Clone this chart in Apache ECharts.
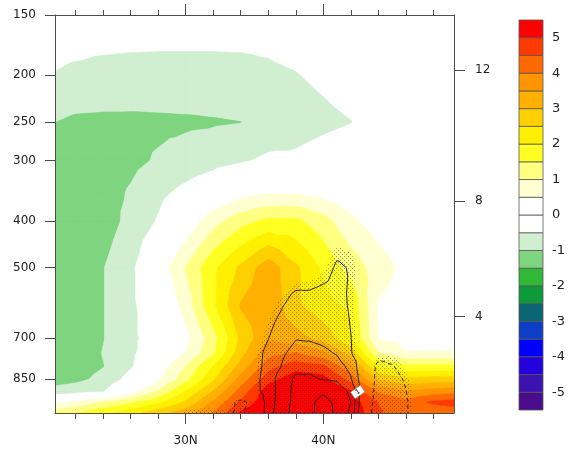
<!DOCTYPE html>
<html><head><meta charset="utf-8">
<script src="https://cdn.jsdelivr.net/npm/echarts@6/dist/echarts.min.js"></script>
<style>html,body{margin:0;padding:0;background:#fff}#chart{width:575px;height:449px}</style>
</head><body><div id="chart"></div>
<script>
// ---------- shaded field (latitude x pressure) ----------
const latitudes = [20,22,24,26,28,30,32,34,36,38,40,42,44,46,48,50];
const pressureLevels = [1000,950,900,850,800,750,700,600,500,400,350,300,250,200,150];
const shade1000 = [1.2,1.5,1.9,2.3,2.8,3.3,4.02,5.1,5.6,6.0,6.0,5.4,4.6,3.98,4.1,4.2];
const shade950  = [0.2,0.6,1.02,1.4,1.9,2.6,3.6,4.6,5.4,5.8,5.8,5.3,4.48,4.2,4.6,4.8];
const shade900  = [-0.85,-0.7,-0.52,0.2,1.02,2.02,3.02,4.2,5.3,5.6,5.5,5.02,3.9,3.5,3.7,3.8];
const shade850  = [-1.3,-1.15,-0.85,-0.3,0.4,1.3,2.4,3.7,4.8,5.3,5.2,4.3,2.9,2.6,2.7,2.7];
const shade800  = [-1.35,-1.25,-1.02,-0.55,0.2,1.02,2.02,3.2,4.3,4.8,4.6,3.6,2.02,1.6,1.6,1.6];
const shade750  = [-1.35,-1.3,-0.98,-0.6,-0.1,0.52,1.4,2.8,3.8,4.0,3.6,2.8,1.02,0.52,0.52,0.52];
const shade700  = [-1.4,-1.35,-1.02,-0.6,-0.25,0.35,1.3,2.6,3.45,3.2,2.8,2.05,0.48,0.35,0.35,0.35];
const shade600  = [-1.4,-1.35,-1.02,-0.6,-0.1,0.7,1.9,3.05,3.4,2.6,2.2,1.9,0.45,0.25,0.15,0.1];
const shade500  = [-1.4,-1.35,-1.02,-0.6,0.15,1.02,1.9,2.6,3.3,2.6,1.9,1.3,0.75,0.35,0.15,0.05];
const shade400  = [-1.4,-1.4,-1.25,-0.85,-0.45,0.1,0.8,1.3,1.6,1.6,1.2,0.6,0.25,0.05,0,0];
const shade350  = [-1.35,-1.35,-1.2,-0.95,-0.62,-0.35,-0.05,0.3,0.45,0.45,0.3,0.15,0.05,0,0,0];
const shade300  = [-1.3,-1.3,-1.25,-1.12,-0.95,-0.8,-0.68,-0.55,-0.4,-0.4,-0.25,-0.12,-0.05,0,0,0];
const shade250  = [-0.97,-1.1,-1.12,-1.12,-1.1,-1.08,-1.05,-1.01,-0.85,-0.72,-0.62,-0.51,-0.3,-0.15,-0.05,0];
const shade200  = [-0.5,-0.56,-0.6,-0.62,-0.63,-0.63,-0.63,-0.62,-0.58,-0.52,-0.4,-0.25,-0.12,-0.05,0,0];
const shade150  = [-0.3,-0.3,-0.3,-0.3,-0.3,-0.3,-0.3,-0.3,-0.3,-0.2,-0.1,0,0,0,0,0];
const shadeRows = [shade1000,shade950,shade900,shade850,shade800,shade750,shade700,shade600,shade500,shade400,shade350,shade300,shade250,shade200,shade150];

// ---------- contour-line field ----------
const lineLatitudes = [28,29,30,31,32,33,34,35,36,37,38,39,40,41,42,43,44,45,46,47,48];
const linePressures = [1000,950,900,850,800,750,700,600,500,400];
const line1000 = [0,-0.4,-0.9,-0.95,-0.95,-0.88,-1.15,-0.6,1.7,2.5,3.5,3.75,4.5,3.8,2.8,-0.5,-1.5,-1.6,-1.1,-0.4,0];
const line950  = [0,-0.2,-0.5,-0.6,-0.6,-0.55,-1.3,-0.6,1.6,2.4,3.4,3.8,4.3,3.8,3.0,-0.3,-1.5,-1.6,-1.1,-0.4,0];
const line900  = [0,0,0,0.05,0.05,0.1,0.2,0.65,1.5,2.45,3.3,3.6,3.85,3.5,2.8,0.0,-1.5,-1.5,-1.02,-0.4,0];
const line850  = [0,0,0,0,0,0.1,0.3,0.7,1.45,2.55,3.15,3.1,2.95,2.85,2.1,0.1,-1.4,-1.3,-0.9,-0.4,0];
const line800  = [0,0,0,0,0,0.1,0.3,0.65,1.3,2.05,2.7,2.85,2.7,2.4,1.7,0.0,-1.3,-1.05,-0.7,-0.3,0];
const line750  = [0,0,0,0,0,0.1,0.3,0.7,1.2,1.85,2.3,2.4,2.2,1.9,1.05,0.3,-0.5,-0.7,-0.5,-0.2,0];
const line700  = [0,0,0,0,0,0.1,0.2,0.5,0.98,1.5,1.95,1.9,1.75,1.5,1.02,0.4,0.0,-0.2,-0.2,0,0];
const line600  = [0,0,0,0,0,0.1,0.2,0.4,0.6,0.95,1.4,1.35,1.4,1.3,0.9,0.4,0.2,0,0,0,0];
const line500  = [0,0,0,0,0,0,0,0.1,0.2,0.3,0.4,0.5,0.7,1.1,0.95,0.5,0.2,0,0,0,0];
const line400  = [0,0,0,0,0,0,0,0,0,0,0.1,0.2,0.3,0.4,0.5,0.3,0,0,0,0,0];
const lineRows = [line1000,line950,line900,line850,line800,line750,line700,line600,line500,line400];
const solidLevels = [1,2,3,4];
const dashedLevels = [-1];
const stippleThreshold = 0.8;
const labelLat = [42.5], labelP = [905], labelText = ['1'];

// ---------- colour scale ----------
const colorLevels = [-5,-4.5,-4,-3.5,-3,-2.5,-2,-1.5,-1,-0.5,0,0.5,1,1.5,2,2.5,3,3.5,4,4.5,5];
const bandColors = ['#4b0c8c','#3c12b0','#2400dc','#0000ff','#0d3fc6','#0b6674','#0d9a3a','#30b936','#7fd480','#d0eed0',
  '#ffffff','#ffffff','#ffffd2','#ffff82','#ffff22','#fff000','#ffd000','#ffb000','#ff9500','#ff6a00','#ff3a00','#ff0000'];
const colorbarLabels = [-5,-4,-3,-2,-1,0,1,2,3,4,5];
const colorbarEnds = [-5.5, 5.5];

// ---------- axes ----------
const pressureTicks = [150,200,250,300,400,500,700,850];
const heightTicksKm = [4,8,12];
const heightTickPressure = [631,364,195];
const majorLatTicks = [30,40];
const minorLatTicks = [22,24,26,28,32,34,36,38,42,44,46,48];

// ---------- contouring helpers ----------
function buildTriangles(lats, ps, rows){
  const tris = [];
  const V = (r,c) => ({x:lats[c], y:Math.log(ps[r]), v:rows[r][c], id:'g'+r+'_'+c});
  for (let r=0;r<ps.length-1;r++) for (let c=0;c<lats.length-1;c++){
    const a=V(r,c), b=V(r,c+1), d=V(r+1,c+1), e=V(r+1,c);
    const m={x:(a.x+b.x+d.x+e.x)/4, y:(a.y+b.y+d.y+e.y)/4, v:(a.v+b.v+d.v+e.v)/4, id:'m'+r+'_'+c};
    tris.push([m,a,b],[m,b,d],[m,d,e],[m,e,a]);
  }
  return tris;
}
function lerpPt(A,B,L){ const t=(L-A.v)/(B.v-A.v); return {x:A.x+t*(B.x-A.x), y:A.y+t*(B.y-A.y), v:L}; }
function clipKeep(poly, test, L){
  const out=[], n=poly.length;
  for (let i=0;i<n;i++){
    const cur=poly[i], prev=poly[(i+n-1)%n], ci=test(cur.v), pi=test(prev.v);
    if (ci){ if(!pi) out.push(lerpPt(prev,cur,L)); out.push(cur); }
    else if (pi) out.push(lerpPt(prev,cur,L));
  }
  return out;
}
function bandPolys(tris, lo, hi){
  const res=[];
  for (const t of tris){
    let p=t;
    if (lo>-Infinity){ p=clipKeep(p, v=>v>=lo, lo); if (p.length<3) continue; }
    if (hi<Infinity){ p=clipKeep(p, v=>v<hi, hi); if (p.length<3) continue; }
    res.push(p);
  }
  return res;
}
function contourChains(tris, L){
  const segs=[];
  for (const t of tris){
    const pts=[];
    for (const [i,j] of [[0,1],[1,2],[2,0]]){
      const A=t[i], B=t[j];
      if ((A.v>=L)!==(B.v>=L)){
        const key = A.id<B.id ? A.id+'|'+B.id : B.id+'|'+A.id;
        pts.push({key, p:lerpPt(A,B,L)});
      }
    }
    if (pts.length===2) segs.push(pts);
  }
  const byKey=new Map();
  segs.forEach((s,i)=>s.forEach(e=>{ if(!byKey.has(e.key)) byKey.set(e.key,[]); byKey.get(e.key).push(i); }));
  const used=new Array(segs.length).fill(false), chains=[];
  for (let i=0;i<segs.length;i++){
    if (used[i]) continue; used[i]=true;
    let chain=[segs[i][0], segs[i][1]];
    for (let dir=0; dir<2; dir++){
      while (true){
        const end=chain[chain.length-1];
        const cand=(byKey.get(end.key)||[]).find(j=>!used[j]);
        if (cand===undefined) break;
        used[cand]=true;
        const s=segs[cand];
        chain.push(s[0].key===end.key ? s[1] : s[0]);
      }
      chain.reverse();
    }
    chains.push(chain.map(e=>e.p));
  }
  return chains;
}
function polysToPath(polys, api){
  let d='';
  for (const poly of polys){
    poly.forEach((pt,i)=>{ const c=api.coord([pt.x, Math.exp(pt.y)]); d+=(i?'L':'M')+c[0].toFixed(2)+' '+c[1].toFixed(2); });
    d+='Z';
  }
  return d;
}

const shadeTris = buildTriangles(latitudes, pressureLevels, shadeRows);
const lineTris = buildTriangles(lineLatitudes, linePressures, lineRows);
const edges = [-Infinity, ...colorLevels, Infinity];
const shadeBands = [];
for (let k=0;k<bandColors.length;k++){
  if (bandColors[k]==='#ffffff') continue;
  const polys = bandPolys(shadeTris, edges[k], edges[k+1]);
  if (polys.length) shadeBands.push({color:bandColors[k], polys});
}
const stippleRegions = [bandPolys(lineTris, stippleThreshold, Infinity), bandPolys(lineTris, -Infinity, -stippleThreshold)];
const contourSets = [
  ...solidLevels.map(L=>({dashed:false, chains:contourChains(lineTris, L)})),
  ...dashedLevels.map(L=>({dashed:true, chains:contourChains(lineTris, L)}))
];

// stipple pattern
const pat = document.createElement('canvas'); pat.width=4; pat.height=4;
const pctx = pat.getContext('2d'); pctx.fillStyle='rgba(40,40,40,0.5)';
pctx.fillRect(0,0,1,1); pctx.fillRect(2,2,1,1);

const cbEdges = [colorbarEnds[0], ...colorLevels, colorbarEnds[1]];
const font = 'DejaVu Sans';
const axisCol = '#4d4d4d';
const lineSt = {color:axisCol, width:1};

const chart = echarts.init(document.getElementById('chart'), null, {renderer:'canvas'});
chart.setOption({
  animation:false,
  backgroundColor:'#fff',
  grid:[{left:55, top:15, width:399, height:398}, {left:519, top:20, width:24, height:390}],
  xAxis:[
    {gridIndex:0, type:'value', min:20.5, max:49.5, position:'bottom', z:10,
     axisLine:{show:true, lineStyle:lineSt}, splitLine:{show:false},
     axisTick:{show:true, customValues:majorLatTicks, length:11, lineStyle:lineSt},
     axisLabel:{customValues:majorLatTicks, formatter:v=>v+'N', fontFamily:font, fontSize:12, color:'#222', margin:22}},
    {gridIndex:0, type:'value', min:20.5, max:49.5, position:'bottom', z:10,
     axisLine:{show:false}, splitLine:{show:false}, axisLabel:{show:false},
     axisTick:{show:true, customValues:minorLatTicks, length:6, lineStyle:lineSt}},
    {gridIndex:0, type:'value', min:20.5, max:49.5, position:'top', z:10,
     axisLine:{show:true, lineStyle:lineSt}, splitLine:{show:false}, axisLabel:{show:false},
     axisTick:{show:true, customValues:majorLatTicks, length:11, lineStyle:lineSt}},
    {gridIndex:0, type:'value', min:20.5, max:49.5, position:'top', z:10,
     axisLine:{show:false}, splitLine:{show:false}, axisLabel:{show:false},
     axisTick:{show:true, customValues:minorLatTicks, length:5, lineStyle:lineSt}},
    {gridIndex:1, type:'value', min:0, max:1, show:false}
  ],
  yAxis:[
    {gridIndex:0, type:'log', min:150, max:1000, inverse:true, position:'left', z:10,
     axisLine:{show:true, lineStyle:lineSt}, splitLine:{show:false}, minorTick:{show:false},
     axisTick:{show:true, customValues:pressureTicks, length:10, lineStyle:lineSt},
     axisLabel:{customValues:pressureTicks, fontFamily:font, fontSize:12, color:'#222', margin:19}},
    {gridIndex:0, type:'log', min:150, max:1000, inverse:true, position:'right', z:10,
     axisLine:{show:true, lineStyle:lineSt}, splitLine:{show:false}, minorTick:{show:false},
     axisTick:{show:true, customValues:heightTickPressure, length:11, lineStyle:lineSt},
     axisLabel:{customValues:heightTickPressure, fontFamily:font, fontSize:12, color:'#222', margin:21,
       formatter:v=>{ let best=0; heightTickPressure.forEach((p,i)=>{ if(Math.abs(p-v)<Math.abs(heightTickPressure[best]-v)) best=i; }); return String(heightTicksKm[best]); }}},
    {gridIndex:1, type:'value', min:colorbarEnds[0], max:colorbarEnds[1], position:'right',
     axisLine:{show:false}, axisTick:{show:false}, splitLine:{show:false},
     axisLabel:{customValues:colorbarLabels, fontFamily:font, fontSize:13, color:'#222', margin:9}}
  ],
  series:[
    {type:'custom', coordinateSystem:'cartesian2d', xAxisIndex:0, yAxisIndex:0, clip:true, silent:true, z:1,
     data: shadeBands.map(()=>[35,500]),
     renderItem:(params, api)=>{ const b=shadeBands[params.dataIndex];
       return {type:'path', shape:{pathData:polysToPath(b.polys, api)}, style:{fill:b.color, stroke:b.color, lineWidth:0.5}}; }},
    {type:'custom', coordinateSystem:'cartesian2d', xAxisIndex:0, yAxisIndex:0, clip:true, silent:true, z:2,
     data: stippleRegions.map(()=>[35,500]),
     renderItem:(params, api)=>{ const polys=stippleRegions[params.dataIndex]; if(!polys.length) return null;
       return {type:'path', shape:{pathData:polysToPath(polys, api)}, style:{fill:{image:pat, repeat:'repeat'}}}; }},
    {type:'custom', coordinateSystem:'cartesian2d', xAxisIndex:0, yAxisIndex:0, clip:true, silent:true, z:3,
     data: contourSets.map(()=>[35,500]),
     renderItem:(params, api)=>{ const set=contourSets[params.dataIndex];
       return {type:'group', children:set.chains.map(ch=>({type:'polyline',
         shape:{points:ch.map(pt=>api.coord([pt.x, Math.exp(pt.y)]))},
         style:{fill:null, stroke:'#262626', lineWidth:1, lineDash:set.dashed?[4,3]:null}}))}; }},
    {type:'custom', coordinateSystem:'cartesian2d', xAxisIndex:0, yAxisIndex:0, clip:true, silent:true, z:4,
     data: labelLat.map((la,i)=>[la, labelP[i]]),
     renderItem:(params, api)=>{ const c=api.coord([api.value(0), api.value(1)]);
       return {type:'group', x:c[0], y:c[1], rotation:0.6, children:[
         {type:'rect', shape:{x:-6, y:-4, width:12, height:8}, style:{fill:'#fff', stroke:'#888', lineWidth:0.6}},
         {type:'text', style:{text:labelText[params.dataIndex], x:0, y:0, align:'center', verticalAlign:'middle', fontSize:7, fontFamily:font, fill:'#111'}}]}; }},
    {type:'custom', coordinateSystem:'cartesian2d', xAxisIndex:4, yAxisIndex:2, silent:true, z:2,
     data: bandColors.map((c,i)=>[0.5, (cbEdges[i]+cbEdges[i+1])/2]),
     renderItem:(params, api)=>{ const i=params.dataIndex; const p0=api.coord([0, cbEdges[i]]), p1=api.coord([1, cbEdges[i+1]]);
       return {type:'rect', shape:{x:p0[0], y:p1[1], width:p1[0]-p0[0], height:p0[1]-p1[1]},
         style:{fill:bandColors[i], stroke:'#555', lineWidth:0.8}}; }}
  ]
});
</script></body></html>
